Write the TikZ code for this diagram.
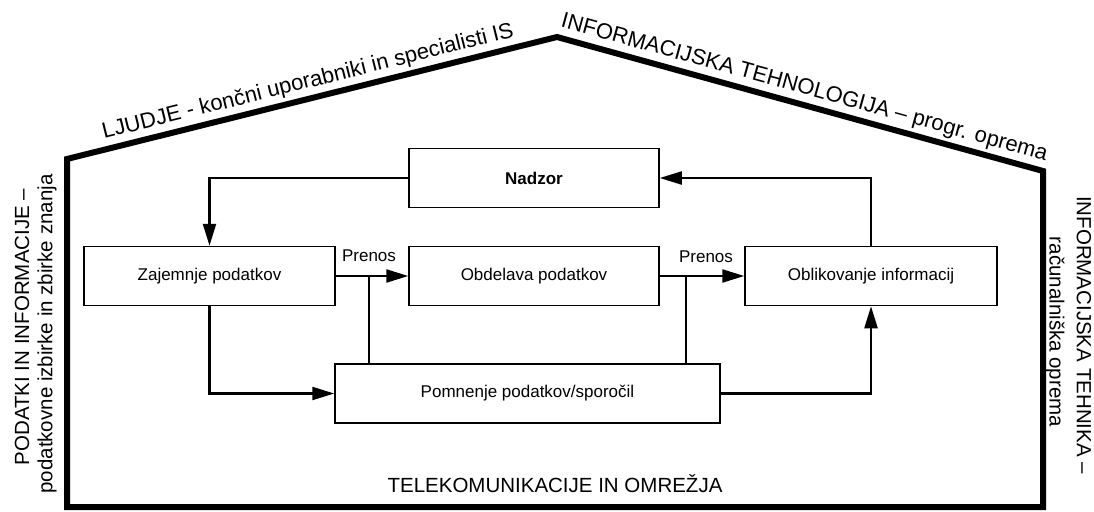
\documentclass[tikz,border=0pt]{standalone}
\usepackage{fontspec}
\setmainfont{Liberation Sans}
\usetikzlibrary{arrows.meta}
\begin{document}
\begin{tikzpicture}[x=1pt,y=-1pt,
  box/.style={draw, line width=1.5pt, minimum width=#1, minimum height=59pt, inner sep=0pt,
              font=\fontsize{17}{20}\selectfont},
  conn/.style={line width=2.2pt},
  arr/.style={conn, -{Triangle[length=22pt,width=13pt]}},
  lbl/.style={inner sep=0pt, font=\fontsize{17}{20}\selectfont},
  big/.style={inner sep=0pt, font=\fontsize{22}{26}\selectfont},
  side/.style={inner sep=0pt, font=\fontsize{20.5}{24}\selectfont},
  house/.style={line width=6pt, line join=miter}]
\useasboundingbox (0,0) rectangle (1094,511);

% house outline
\coordinate (tl) at (67,159);
\coordinate (peak) at (557,37);
\coordinate (tr) at (1043,171);
\coordinate (br) at (1043,507);
\coordinate (bl) at (67,507);
\draw[house] (tl) -- node[big, sloped, above=3pt] (roofL) {LJUDJE - končni uporabniki in specialisti IS}
  (peak) -- node[big, sloped, above=3pt] (roofR) {INFORMACIJSKA TEHNOLOGIJA -- progr. oprema}
  (tr) -- (br) -- (bl) -- cycle;

% side labels
\node[side, rotate=90] (lo) at (22,327) {PODATKI IN INFORMACIJE --};
\node[side, rotate=90] (li) at (47,334) {podatkovne izbirke in zbirke znanja};
\node[side, rotate=-90] (ro) at (1084,335) {INFORMACIJSKA TEHNIKA --};
\node[side, rotate=-90] (ri) at (1055,332) {računalniška oprema};
\node[side] (bot) at (555,484) {TELEKOMUNIKACIJE IN OMREŽJA};

% boxes
\node[box=250pt, font=\fontsize{17}{20}\selectfont\bfseries] (nad) at (534,178) {Nadzor};
\node[box=251pt] (zaj) at (209.5,276) {Zajemnje podatkov};
\node[box=250pt] (obd) at (534,276) {Obdelava podatkov};
\node[box=252pt] (obl) at (871,276) {Oblikovanje informacij};
\node[box=385pt] (pom) at (527.5,393.5) {Pomnenje podatkov/sporočil};

% labels
\node[lbl] (pr1) at (369,256) {Prenos};
\node[lbl] (pr2) at (706,257) {Prenos};

% connectors
\draw[arr] (nad.west) -| (zaj.north);
\draw[arr] (obl.north) |- (nad.east);
\draw[arr] (zaj.east) -- (obd.west);
\draw[arr] (obd.east) -- (obl.west);
\coordinate (b1) at (369,276);
\coordinate (b2) at (686,276);
\draw[conn] (b1) -- (b1 |- pom.north);
\draw[conn] (b2) -- (b2 |- pom.north);
\draw[arr] (zaj.south) |- (pom.west);
\draw[arr] (pom.east) -| (obl.south);
\end{tikzpicture}
\end{document}
